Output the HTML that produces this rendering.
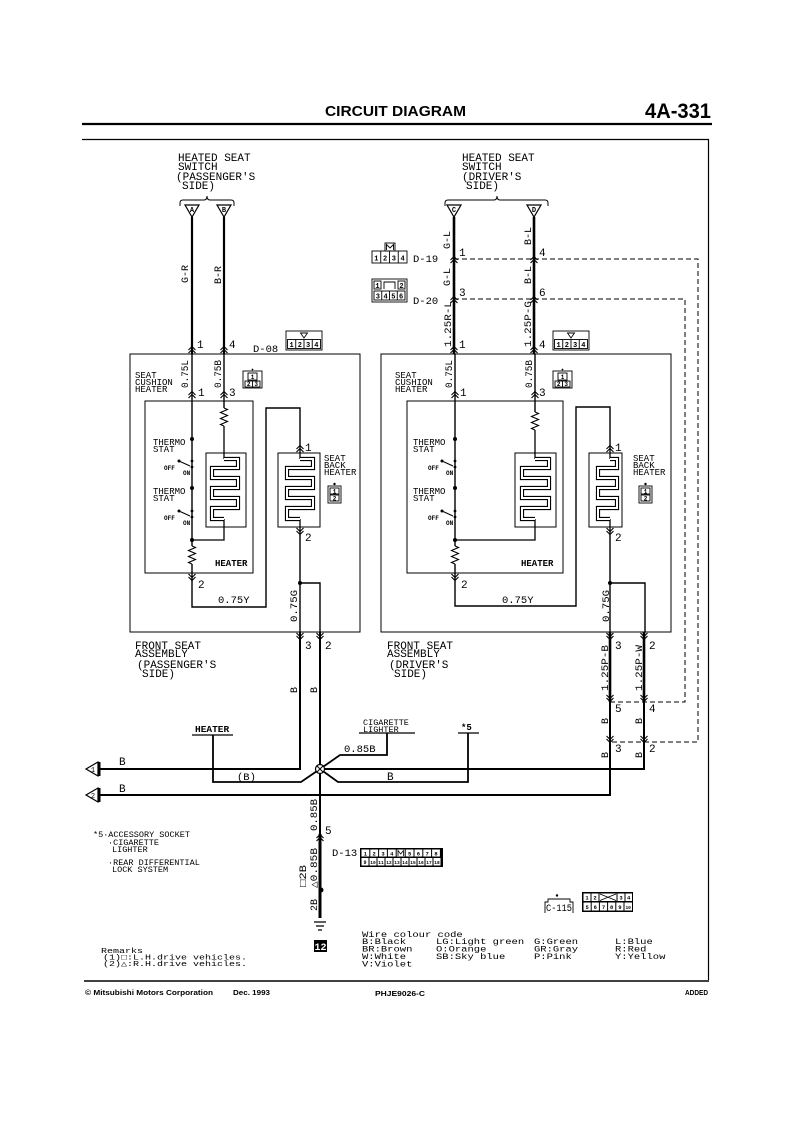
<!DOCTYPE html>
<html><head><meta charset="utf-8">
<style>
html,body{margin:0;padding:0;background:#fff}
svg{display:block}
text{font-family:"Liberation Mono","DejaVu Sans Mono",monospace;fill:#000}
text.s{font-family:"Liberation Sans",Arial,sans-serif;font-weight:bold}
text.b{font-weight:bold}
</style></head><body>
<svg xmlns="http://www.w3.org/2000/svg" width="794" height="1123" viewBox="0 0 794 1123">
<rect width="794" height="1123" fill="#fff"/>
<defs>
<path id="au" d="M-3.5,4 L0,0.5 L3.5,4 M-3.5,7 L0,3.5 L3.5,7" fill="none" stroke="#000" stroke-width="1.1"/>
<path id="ad" d="M-3.5,-4 L0,-0.5 L3.5,-4 M-3.5,-7 L0,-3.5 L3.5,-7" fill="none" stroke="#000" stroke-width="1.1"/>
</defs>

<!-- header -->
<text class="s" x="325" y="116" font-size="14.5" textLength="141" lengthAdjust="spacingAndGlyphs">CIRCUIT DIAGRAM</text>
<text class="s" x="645" y="118" font-size="21" textLength="66" lengthAdjust="spacingAndGlyphs">4A-331</text>

<g fill="none" stroke="#000">
<line x1="82" y1="124" x2="712" y2="124" stroke-width="2.2"/>
<path d="M82 139.5 H708.5 V980" stroke-width="1.2"/>
<line x1="84" y1="981" x2="709" y2="981" stroke-width="1.4"/>

<!-- braces -->
<path d="M180 206 V203 Q180 200 183 200 H204 Q207 200 207 196 Q207 200 210 200 H231 Q234 200 234 203 V206" stroke-width="1"/>
<path d="M445 206 V203 Q445 200 448 200 H494 Q497 200 497 196 Q497 200 500 200 H545 Q548 200 548 203 V206" stroke-width="1"/>

<!-- boxes -->
<rect x="130" y="354" width="230" height="278" stroke-width="1"/>
<rect x="381" y="354" width="290" height="278" stroke-width="1"/>
<rect x="145" y="401" width="108" height="172" stroke-width="1"/>
<rect x="206" y="453" width="40" height="74" stroke-width="1"/>
<rect x="278" y="453" width="42" height="74" stroke-width="1"/>
<rect x="407" y="401" width="156" height="172" stroke-width="1"/>
<rect x="515" y="453" width="41" height="74" stroke-width="1"/>
<rect x="589" y="453" width="33" height="74" stroke-width="1"/>

<!-- passenger wires -->
<path d="M192 217 V354 M224 217 V354" stroke-width="2.2"/>
<path d="M192 354 V546 M192 564 V581 M224 354 V408" stroke-width="1.4"/>
<path d="M224 408 l3.5 1.5 l-7 3 l7 3 l-7 3 l7 3 l-7 3 l3.5 1.5" stroke-width="1.1"/>
<path d="M192 546 l3.5 1.5 l-7 3 l7 3 l-7 3 l7 3 l-7 3 l3.5 1.5" stroke-width="1.1"/>
<path d="M224 426 V459 M224 519 V540 H192" stroke-width="1.3"/>
<path d="M224 459 H238 V468 H212 V478 H238 V488 H212 V498 H238 V508 H212 V519 H224" stroke-width="4.2" stroke-linejoin="miter"/>
<path d="M224 459 H238 V468 H212 V478 H238 V488 H212 V498 H238 V508 H212 V519 H224" stroke-width="2" stroke="#fff" stroke-linejoin="miter"/>
<path d="M192 581 V607 H266 V408 H300 V445" stroke-width="1.4"/>
<path d="M300 445 V459 M300 519 V535" stroke-width="1.3"/>
<path d="M300 459 H313 V468 H287 V478 H313 V488 H287 V498 H313 V508 H287 V519 H300" stroke-width="4.2"/>
<path d="M300 459 H313 V468 H287 V478 H313 V488 H287 V498 H313 V508 H287 V519 H300" stroke-width="2" stroke="#fff"/>
<path d="M300 535 V632 M300 583 H320 V632" stroke-width="1.4"/>
<path d="M300 632 V769 H99" stroke-width="2"/>
<path d="M320 632 V834" stroke-width="2"/>
<path d="M320 834 V918" stroke-width="3"/>

<!-- driver wires -->
<path d="M454 217 V354 M534 217 V354" stroke-width="2.6"/>
<path d="M455 354 V546 M455 564 V581 M535 354 V412" stroke-width="1.4"/>
<path d="M535 412 l3.5 1.5 l-7 3 l7 3 l-7 3 l7 3 l-7 3 l3.5 1.5" stroke-width="1.1"/>
<path d="M455 546 l3.5 1.5 l-7 3 l7 3 l-7 3 l7 3 l-7 3 l3.5 1.5" stroke-width="1.1"/>
<path d="M535 430 V459 M535 519 V540 H455" stroke-width="1.3"/>
<path d="M535 459 H549 V468 H522 V478 H549 V488 H522 V498 H549 V508 H522 V519 H535" stroke-width="4.2"/>
<path d="M535 459 H549 V468 H522 V478 H549 V488 H522 V498 H549 V508 H522 V519 H535" stroke-width="2" stroke="#fff"/>
<path d="M455 581 V606 H576 V407 H610 V445" stroke-width="1.4"/>
<path d="M610 445 V459 M610 519 V535" stroke-width="1.3"/>
<path d="M610 459 H617 V468 H598 V478 H617 V488 H598 V498 H617 V508 H598 V519 H610" stroke-width="4.2"/>
<path d="M610 459 H617 V468 H598 V478 H617 V488 H598 V498 H617 V508 H598 V519 H610" stroke-width="2" stroke="#fff"/>
<path d="M610 535 V632 M610 583 H645 V632" stroke-width="1.4"/>
<path d="M610 632 V702" stroke-width="2.6"/>
<path d="M644 632 V702" stroke-width="2.6"/>
<path d="M610 702 V795 H99" stroke-width="2"/>
<path d="M644 702 V769 H320" stroke-width="2"/>

<!-- dashed -->
<path d="M454 259 H698 V742 H610" stroke-width="1" stroke-dasharray="5 3"/>
<path d="M454 299 H685 V702 H610" stroke-width="1" stroke-dasharray="5 3"/>

<!-- branches -->
<path d="M320 769 L340 755 H387 V733" stroke-width="1.8"/>
<path d="M320 769 L338 782 H468 V733" stroke-width="1.8"/>
<path d="M320 769 L301 782 H213 V735" stroke-width="1.8"/>
<path d="M192 735 H233 M359 733 H415 M458 733 H479" stroke-width="1.3"/>

<!-- levers -->
<path d="M179 461 L190 466 M179 511 L190 516 M442 461 L453 466 M442 511 L453 516" stroke-width="1"/>

<!-- ground -->
<path d="M314 922 H326 M316 926 H324 M318 930 H322" stroke-width="1.2"/>
</g>

<!-- junction -->
<circle cx="320" cy="769" r="4.5" fill="#fff" stroke="#000" stroke-width="1.2"/>
<path d="M317 766 L323 772 M323 766 L317 772" stroke="#000" stroke-width="1"/>

<!-- dots -->
<g fill="#000">
<circle cx="192" cy="439" r="2"/><circle cx="192" cy="488" r="2"/>
<circle cx="192" cy="461" r="1.4"/><circle cx="192" cy="467" r="1.4"/>
<circle cx="192" cy="511" r="1.4"/><circle cx="192" cy="517" r="1.4"/>
<circle cx="179" cy="461" r="1.5"/><circle cx="179" cy="511" r="1.5"/>
<circle cx="192" cy="540" r="2"/><circle cx="300" cy="583" r="2"/>
<circle cx="455" cy="439" r="2"/><circle cx="455" cy="488" r="2"/>
<circle cx="455" cy="461" r="1.4"/><circle cx="455" cy="467" r="1.4"/>
<circle cx="455" cy="511" r="1.4"/><circle cx="455" cy="517" r="1.4"/>
<circle cx="442" cy="461" r="1.5"/><circle cx="442" cy="511" r="1.5"/>
<circle cx="455" cy="540" r="2"/><circle cx="610" cy="583" r="2"/>
<circle cx="321" cy="890" r="2.5"/>
</g>

<!-- pin arrows -->
<use href="#au" x="192" y="346"/><use href="#au" x="224" y="346"/>
<use href="#au" x="192" y="391"/><use href="#au" x="224" y="391"/>
<use href="#au" x="300" y="445"/>
<use href="#au" x="454" y="256"/><use href="#au" x="534" y="256"/>
<use href="#au" x="454" y="296"/><use href="#au" x="534" y="296"/>
<use href="#au" x="454" y="346"/><use href="#au" x="534" y="346"/>
<use href="#au" x="455" y="391"/><use href="#au" x="535" y="391"/>
<use href="#au" x="610" y="445"/>
<use href="#au" x="320" y="834"/>
<use href="#ad" x="192" y="581"/><use href="#ad" x="300" y="535"/>
<use href="#ad" x="300" y="640"/><use href="#ad" x="320" y="640"/>
<use href="#ad" x="455" y="581"/><use href="#ad" x="610" y="535"/>
<use href="#ad" x="610" y="640"/><use href="#ad" x="644" y="640"/>
<use href="#ad" x="610" y="702"/><use href="#ad" x="644" y="702"/>
<use href="#ad" x="610" y="743"/><use href="#ad" x="644" y="743"/>

<!-- switch connector triangles -->
<g fill="#fff" stroke="#000" stroke-width="1.2">
<polygon points="185,205 199,205 192,217"/>
<polygon points="217,205 231,205 224,217"/>
<polygon points="447,205 461,205 454,217"/>
<polygon points="527,205 541,205 534,217"/>
</g>
<g font-size="7" class="b" text-anchor="middle" font-weight="bold">
<text x="192" y="212">A</text><text x="224" y="212">B</text>
<text x="454" y="212">C</text><text x="534" y="212">D</text>
</g>

<!-- left arrow connectors -->
<g stroke="#000">
<polygon points="86,769 98,762 98,776" fill="#fff" stroke-width="1.2"/>
<line x1="99.5" y1="762" x2="99.5" y2="776" stroke-width="2"/>
<polygon points="86,795 98,788 98,802" fill="#fff" stroke-width="1.2"/>
<line x1="99.5" y1="788" x2="99.5" y2="802" stroke-width="2"/>
</g>
<text x="93" y="772" font-size="7" text-anchor="middle">1</text>
<text x="93" y="798" font-size="7" text-anchor="middle">2</text>

<!-- connector icons -->
<g fill="none" stroke="#000" stroke-width="0.9">
<rect x="286" y="331" width="36" height="19"/>
<rect x="287.5" y="339.5" width="33" height="9"/>
<path d="M295.75 339.5V348.5M304 339.5V348.5M312.25 339.5V348.5"/>
<path d="M300.5 333 H307.5 L304 338 Z"/>
<rect x="553" y="331" width="36" height="19"/>
<rect x="554.5" y="339.5" width="33" height="9"/>
<path d="M562.75 339.5V348.5M571 339.5V348.5M579.25 339.5V348.5"/>
<path d="M567.5 333 H574.5 L571 338 Z"/>
<rect x="372" y="251" width="35" height="12"/>
<path d="M380.75 251V263M389.5 251V263M398.25 251V263"/>
<rect x="385" y="243" width="10" height="8"/>
<path d="M386.5 250 V244.5 L390 248 L393.5 244.5 V250"/>
<rect x="372" y="279" width="35" height="23"/>
<rect x="374" y="281" width="7" height="8"/>
<path d="M384 289 V282 H395 V289"/>
<rect x="398" y="281" width="7" height="8"/>
<rect x="374" y="291" width="31" height="9"/>
<path d="M381.75 291V300M389.5 291V300M397.25 291V300"/>
<rect x="243" y="371" width="19" height="17"/>
<rect x="248" y="373" width="9" height="7"/>
<rect x="245" y="381" width="15" height="6"/>
<path d="M252.5 381V387"/>
<rect x="553" y="371" width="19" height="17"/>
<rect x="558" y="373" width="9" height="7"/>
<rect x="555" y="381" width="15" height="6"/>
<path d="M562.5 381V387"/>
<rect x="328" y="486" width="13" height="17"/>
<rect x="330" y="488" width="9" height="6"/>
<rect x="330" y="495" width="9" height="6"/>
<rect x="639" y="486" width="13" height="17"/>
<rect x="641" y="488" width="9" height="6"/>
<rect x="641" y="495" width="9" height="6"/>
<path d="M545 913 V902 H548 V899 H570 V902 H573 V913"/>
</g>
<g fill="#000">
<circle cx="252.5" cy="369.5" r="0.9"/><circle cx="562.5" cy="369.5" r="0.9"/>
<circle cx="334.5" cy="484" r="1.2"/><circle cx="645.5" cy="484" r="1.2"/>
<circle cx="557" cy="895.5" r="1.2"/>
</g>
<g font-size="7" font-weight="bold" text-anchor="middle">
<text x="291.6" y="347">1</text><text x="299.9" y="347">2</text><text x="308.1" y="347">3</text><text x="316.4" y="347">4</text>
<text x="558.6" y="347">1</text><text x="566.9" y="347">2</text><text x="575.1" y="347">3</text><text x="583.4" y="347">4</text>
<text x="376.4" y="260.5">1</text><text x="385.1" y="260.5">2</text><text x="393.9" y="260.5">3</text><text x="402.6" y="260.5">4</text>
<text x="377.5" y="288">1</text><text x="401.5" y="288">2</text>
<text x="377.9" y="298.5">3</text><text x="385.6" y="298.5">4</text><text x="393.4" y="298.5">5</text><text x="401.1" y="298.5">6</text>
</g>
<g font-size="6" font-weight="bold" text-anchor="middle">
<text x="252.5" y="379">1</text><text x="248.7" y="386">2</text><text x="256.2" y="386">3</text>
<text x="562.5" y="379">1</text><text x="558.7" y="386">2</text><text x="566.2" y="386">3</text>
<text x="334.5" y="493.5">1</text><text x="334.5" y="500.5">2</text>
<text x="645.5" y="493.5">1</text><text x="645.5" y="500.5">2</text>
</g>

<!-- D-13 icon -->
<rect x="360" y="848" width="83" height="19" fill="#000"/>
<g fill="#fff">
<rect x="361.5" y="849.5" width="7.8" height="7"/><rect x="370.3" y="849.5" width="7.8" height="7"/>
<rect x="379.1" y="849.5" width="7.8" height="7"/><rect x="387.9" y="849.5" width="7.8" height="7"/>
<rect x="396.7" y="849.5" width="8" height="7"/>
<rect x="405.7" y="849.5" width="7.8" height="7"/><rect x="414.5" y="849.5" width="7.8" height="7"/>
<rect x="423.3" y="849.5" width="7.8" height="7"/><rect x="432.1" y="849.5" width="7.8" height="7"/>
<rect x="361.5" y="858" width="7" height="7.5"/><rect x="369.5" y="858" width="7" height="7.5"/>
<rect x="377.5" y="858" width="7" height="7.5"/><rect x="385.5" y="858" width="7" height="7.5"/>
<rect x="393.5" y="858" width="7" height="7.5"/><rect x="401.5" y="858" width="7" height="7.5"/>
<rect x="409.5" y="858" width="7" height="7.5"/><rect x="417.5" y="858" width="7" height="7.5"/>
<rect x="425.5" y="858" width="7" height="7.5"/><rect x="433.5" y="858" width="7" height="7.5"/>
</g>
<path d="M398 856 V850.5 L400.7 854 L403.4 850.5 V856" fill="none" stroke="#000" stroke-width="0.8"/>
<g font-size="5.5" font-weight="bold" text-anchor="middle">
<text x="365.4" y="855.5">1</text><text x="374.2" y="855.5">2</text><text x="383" y="855.5">3</text><text x="391.8" y="855.5">4</text>
<text x="409.6" y="855.5">5</text><text x="418.4" y="855.5">6</text><text x="427.2" y="855.5">7</text><text x="436" y="855.5">8</text>
<text x="365" y="864" font-size="5">9</text><text x="373" y="864" font-size="4.5">10</text><text x="381" y="864" font-size="4.5">11</text>
<text x="389" y="864" font-size="4.5">12</text><text x="397" y="864" font-size="4.5">13</text><text x="405" y="864" font-size="4.5">14</text>
<text x="413" y="864" font-size="4.5">15</text><text x="421" y="864" font-size="4.5">16</text><text x="429" y="864" font-size="4.5">17</text>
<text x="437" y="864" font-size="4.5">18</text>
</g>

<!-- C-115 icon -->
<rect x="582" y="892" width="51" height="20" fill="#000"/>
<g fill="#fff">
<rect x="583.5" y="893.5" width="7" height="7.5"/><rect x="591.5" y="893.5" width="7" height="7.5"/>
<rect x="599.5" y="893.5" width="17" height="7.5"/>
<rect x="617.5" y="893.5" width="7" height="7.5"/><rect x="625.5" y="893.5" width="6.5" height="7.5"/>
<rect x="583.5" y="902.5" width="7.2" height="8"/><rect x="591.7" y="902.5" width="7.2" height="8"/>
<rect x="599.9" y="902.5" width="7.2" height="8"/><rect x="608.1" y="902.5" width="7.2" height="8"/>
<rect x="616.3" y="902.5" width="7.2" height="8"/><rect x="624.5" y="902.5" width="7.5" height="8"/>
</g>
<path d="M600 894 L616 900.5 M616 894 L600 900.5" stroke="#000" stroke-width="0.8"/>
<g font-size="5.5" font-weight="bold" text-anchor="middle">
<text x="587" y="899.5">1</text><text x="595" y="899.5">2</text><text x="621" y="899.5">3</text><text x="628.7" y="899.5">4</text>
<text x="587.1" y="909">5</text><text x="595.3" y="909">6</text><text x="603.5" y="909">7</text>
<text x="611.7" y="909">8</text><text x="619.9" y="909">9</text><text x="628.2" y="909" font-size="4.5">10</text>
</g>
<text x="546" y="911" font-size="10" textLength="26" lengthAdjust="spacingAndGlyphs">C-115</text>

<!-- ground label -->
<rect x="314" y="940" width="13" height="12" fill="#000"/>
<text x="320.5" y="950" font-size="10" font-weight="bold" text-anchor="middle" style="fill:#fff">12</text>

<!-- switch labels -->
<g font-size="11">
<text x="178" y="161">HEATED SEAT</text>
<text x="178" y="170">SWITCH</text>
<text x="176" y="180">(PASSENGER'S</text>
<text x="182" y="189">SIDE)</text>
<text x="462" y="161">HEATED SEAT</text>
<text x="462" y="170">SWITCH</text>
<text x="462" y="180">(DRIVER'S</text>
<text x="466" y="189">SIDE)</text>
</g>

<!-- pin numbers -->
<g font-size="11">
<text x="197" y="348">1</text><text x="229" y="348">4</text>
<text x="198" y="396">1</text><text x="229" y="396">3</text>
<text x="305" y="451">1</text><text x="305" y="541">2</text>
<text x="198" y="588">2</text>
<text x="305" y="649">3</text><text x="325" y="649">2</text>
<text x="459" y="256">1</text><text x="539" y="256">4</text>
<text x="459" y="296">3</text><text x="539" y="296">6</text>
<text x="459" y="348">1</text><text x="539" y="348">4</text>
<text x="460" y="396">1</text><text x="539" y="396">3</text>
<text x="615" y="451">1</text><text x="615" y="541">2</text>
<text x="461" y="588">2</text>
<text x="615" y="649">3</text><text x="649" y="649">2</text>
<text x="615" y="712">5</text><text x="649" y="712">4</text>
<text x="615" y="752">3</text><text x="649" y="752">2</text>
<text x="325" y="834">5</text>
</g>

<!-- connector names -->
<g font-size="10.5">
<text x="253" y="352">D-08</text>
<text x="413" y="262">D-19</text>
<text x="413" y="304">D-20</text>
<text x="332" y="856">D-13</text>
</g>

<!-- inner labels -->
<g font-size="9">
<text x="135" y="378">SEAT</text><text x="135" y="385">CUSHION</text><text x="135" y="392">HEATER</text>
<text x="395" y="378">SEAT</text><text x="395" y="385">CUSHION</text><text x="395" y="392">HEATER</text>
<text x="153" y="445">THERMO</text><text x="153" y="452">STAT</text>
<text x="153" y="494">THERMO</text><text x="153" y="501">STAT</text>
<text x="413" y="445">THERMO</text><text x="413" y="452">STAT</text>
<text x="413" y="494">THERMO</text><text x="413" y="501">STAT</text>
<text x="324" y="461">SEAT</text><text x="324" y="468">BACK</text><text x="324" y="475">HEATER</text>
<text x="633" y="461">SEAT</text><text x="633" y="468">BACK</text><text x="633" y="475">HEATER</text>
<text x="215" y="566" font-weight="bold">HEATER</text>
<text x="521" y="566" font-weight="bold">HEATER</text>
</g>
<g font-size="6" font-weight="bold">
<text x="164" y="470">OFF</text><text x="183" y="475">ON</text>
<text x="164" y="520">OFF</text><text x="183" y="525">ON</text>
<text x="428" y="470">OFF</text><text x="446" y="475">ON</text>
<text x="428" y="520">OFF</text><text x="446" y="525">ON</text>
</g>
<g font-size="10.5">
<text x="218" y="603">0.75Y</text>
<text x="502" y="603">0.75Y</text>
</g>

<!-- assembly labels -->
<g font-size="11">
<text x="135" y="649">FRONT SEAT</text><text x="135" y="657">ASSEMBLY</text>
<text x="137" y="668">(PASSENGER'S</text><text x="142" y="677">SIDE)</text>
<text x="387" y="649">FRONT SEAT</text><text x="387" y="657">ASSEMBLY</text>
<text x="389" y="668">(DRIVER'S</text><text x="394" y="677">SIDE)</text>
</g>

<!-- lower labels -->
<text x="195" y="732" font-size="9.5" font-weight="bold">HEATER</text>
<text x="363" y="725" font-size="8.5">CIGARETTE</text>
<text x="363" y="732" font-size="8.5">LIGHTER</text>
<text x="344" y="752" font-size="10.5">0.85B</text>
<text x="461" y="730" font-size="9" font-weight="bold">*5</text>
<g font-size="11">
<text x="119" y="765">B</text>
<text x="119" y="792">B</text>
<text x="387" y="780">B</text>
</g>
<text x="237" y="780" font-size="10.5">(B)</text>

<!-- vertical labels -->
<g font-size="10" text-anchor="middle">
<text transform="translate(188,274) rotate(-90)">G-R</text>
<text transform="translate(221,275) rotate(-90)">B-R</text>
<text transform="translate(188,374) rotate(-90)" textLength="28" lengthAdjust="spacingAndGlyphs">0.75L</text>
<text transform="translate(221,374) rotate(-90)" textLength="28" lengthAdjust="spacingAndGlyphs">0.75B</text>
<text transform="translate(297,606) rotate(-90)" textLength="32" lengthAdjust="spacingAndGlyphs">0.75G</text>
<text transform="translate(297,690) rotate(-90)">B</text>
<text transform="translate(317,690) rotate(-90)">B</text>
<text transform="translate(450,240) rotate(-90)">G-L</text>
<text transform="translate(450,277) rotate(-90)">G-L</text>
<text transform="translate(531,236) rotate(-90)">B-L</text>
<text transform="translate(531,275) rotate(-90)">B-L</text>
<text transform="translate(451,324) rotate(-90)" textLength="46" lengthAdjust="spacingAndGlyphs">1.25R-L</text>
<text transform="translate(531,324) rotate(-90)" textLength="46" lengthAdjust="spacingAndGlyphs">1.25P-G</text>
<text transform="translate(452,374) rotate(-90)" textLength="28" lengthAdjust="spacingAndGlyphs">0.75L</text>
<text transform="translate(532,374) rotate(-90)" textLength="28" lengthAdjust="spacingAndGlyphs">0.75B</text>
<text transform="translate(609,606) rotate(-90)" textLength="32" lengthAdjust="spacingAndGlyphs">0.75G</text>
<text transform="translate(608,668) rotate(-90)" textLength="46" lengthAdjust="spacingAndGlyphs">1.25P-B</text>
<text transform="translate(642,668) rotate(-90)" textLength="46" lengthAdjust="spacingAndGlyphs">1.25P-W</text>
<text transform="translate(608,721) rotate(-90)">B</text>
<text transform="translate(642,721) rotate(-90)">B</text>
<text transform="translate(608,755) rotate(-90)">B</text>
<text transform="translate(642,755) rotate(-90)">B</text>
<text transform="translate(317,815) rotate(-90)" textLength="32" lengthAdjust="spacingAndGlyphs">0.85B</text>
<text transform="translate(317,868) rotate(-90)" textLength="40" lengthAdjust="spacingAndGlyphs">△0.85B</text>
<text transform="translate(306,876) rotate(-90)" textLength="22" lengthAdjust="spacingAndGlyphs">□2B</text>
<text transform="translate(317,905) rotate(-90)">2B</text>
</g>

<!-- *5 notes -->
<g font-size="8.5">
<text x="93" y="837">*5·ACCESSORY SOCKET</text>
<text x="108" y="845">·CIGARETTE</text>
<text x="112" y="852">LIGHTER</text>
<text x="108" y="865">·REAR DIFFERENTIAL</text>
<text x="112" y="872">LOCK SYSTEM</text>
</g>

<!-- wire colour code -->
<g font-size="10.5">
<text transform="translate(362,937) scale(1,0.8)">Wire colour code</text>
<text transform="translate(362,944) scale(1,0.8)">B:Black</text>
<text transform="translate(362,951.5) scale(1,0.8)">BR:Brown</text>
<text transform="translate(362,959) scale(1,0.8)">W:White</text>
<text transform="translate(362,966.5) scale(1,0.8)">V:Violet</text>
<text transform="translate(436,944) scale(1,0.8)">LG:Light green</text>
<text transform="translate(436,951.5) scale(1,0.8)">O:Orange</text>
<text transform="translate(436,959) scale(1,0.8)">SB:Sky blue</text>
<text transform="translate(534,944) scale(1,0.8)">G:Green</text>
<text transform="translate(534,951.5) scale(1,0.8)">GR:Gray</text>
<text transform="translate(534,959) scale(1,0.8)">P:Pink</text>
<text transform="translate(615,944) scale(1,0.8)">L:Blue</text>
<text transform="translate(615,951.5) scale(1,0.8)">R:Red</text>
<text transform="translate(615,959) scale(1,0.8)">Y:Yellow</text>
</g>

<!-- remarks -->
<g font-size="10">
<text transform="translate(101,953) scale(1,0.75)">Remarks</text>
<text transform="translate(103,959.5) scale(1,0.75)" textLength="144" lengthAdjust="spacingAndGlyphs">(1)□:L.H.drive vehicles.</text>
<text transform="translate(103,966) scale(1,0.75)" textLength="144" lengthAdjust="spacingAndGlyphs">(2)△:R.H.drive vehicles.</text>
</g>

<!-- footer -->
<text class="s" x="85" y="995" font-size="7.5" textLength="128" lengthAdjust="spacingAndGlyphs">© Mitsubishi Motors Corporation</text>
<text class="s" x="233" y="995" font-size="7.5" textLength="37" lengthAdjust="spacingAndGlyphs">Dec. 1993</text>
<text class="s" x="375" y="996" font-size="7.5" textLength="50" lengthAdjust="spacingAndGlyphs">PHJE9026-C</text>
<text class="s" x="685" y="995" font-size="7.5" textLength="23" lengthAdjust="spacingAndGlyphs">ADDED</text>
</svg>
</body></html>
